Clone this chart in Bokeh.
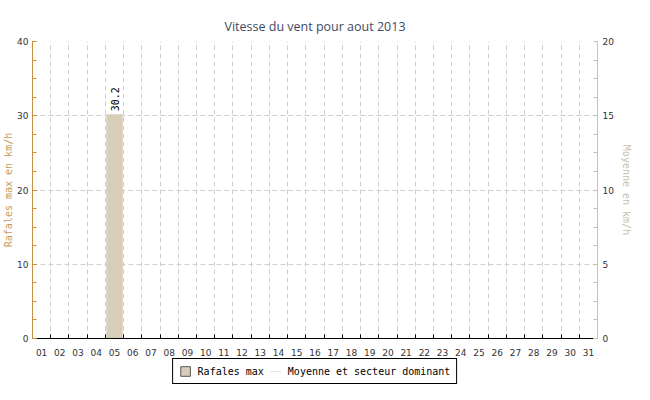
import math
from bokeh.plotting import figure
from bokeh.layouts import column
from bokeh.models import (Range1d, LinearAxis, FixedTicker, SingleIntervalTicker,
                          Legend, LegendItem, ColumnDataSource)
from bokeh.core.properties import value
from bokeh.embed import file_html
from bokeh.resources import INLINE

# ---- data ----
days = ["01", "02", "03", "04", "05", "06", "07", "08", "09", "10",
        "11", "12", "13", "14", "15", "16", "17", "18", "19", "20",
        "21", "22", "23", "24", "25", "26", "27", "28", "29", "30", "31"]
rafales = [None, None, None, None, 30.2, None, None, None, None, None,
           None, None, None, None, None, None, None, None, None, None,
           None, None, None, None, None, None, None, None, None, None, None]
moyenne = [None, None, None, None, None, None, None, None, None, None,
           None, None, None, None, None, None, None, None, None, None,
           None, None, None, None, None, None, None, None, None, None, None]
title = "Vitesse du vent pour aout 2013"
left_label = "Rafales max en km/h"
right_label = "Moyenne en km/h"
series_names = ["Rafales max", "Moyenne et secteur dominant"]

BAR = "#d8cdb9"
LINE = "#ece5d2"
LEFT_C = "#c8903e"
RIGHT_C = "#c9c1ac"
GRID = "#cfcfcf"
TICK_FONT = "DejaVu Sans"
MONO = "DejaVu Sans Mono"

xs = list(range(1, len(days) + 1))
bounds = [i + 0.5 for i in xs[:-1]]

p = figure(width=634, height=358, x_range=Range1d(0.5, len(days) + 0.5),
           y_range=Range1d(0, 40), output_backend="svg", toolbar_location=None,
           min_border_left=10, min_border_right=0, min_border_top=41,
           min_border_bottom=0)
p.extra_y_ranges = {"moy": Range1d(0, 20)}
p.outline_line_color = None
p.background_fill_color = "white"

p.title.text = title
p.title.align = "center"
p.title.text_font = "Open Sans"
p.title.text_font_style = "normal"
p.title.text_font_size = "12.5px"
p.title.text_color = "#3e4a63"
p.title.offset = 0
p.title.standoff = 14

# bars
bx = [x for x, v in zip(xs, rafales) if v is not None]
bv = [v for v in rafales if v is not None]
src = ColumnDataSource(dict(x=bx, top=bv, lab=[f"{v:.1f}" for v in bv]))
p.vbar(x="x", top="top", width=0.9, source=src, fill_color=BAR, line_color=None)
p.text(x="x", y="top", text="lab", source=src, angle=math.pi / 2,
       text_align="left", text_baseline="middle", y_offset=-3,
       text_font=value(MONO), text_font_size="10px", text_color="black")

# mean line (no data)
my = [float("nan") if v is None else v for v in moyenne]
line_src = ColumnDataSource(dict(x=xs, y=my))
p.line(x="x", y="y", source=line_src, y_range_name="moy", line_color=LINE, line_width=1)

# x axis
xa = p.xaxis[0]
xa.ticker = FixedTicker(ticks=xs, minor_ticks=bounds)
xa.major_label_overrides = {x: d for x, d in zip(xs, days)}
xa.major_tick_line_color = None
xa.minor_tick_in = 4
xa.minor_tick_out = 0
xa.minor_tick_line_color = "black"
xa.axis_line_color = "black"
xa.major_label_text_font = TICK_FONT
xa.major_label_text_font_size = "9px"
xa.major_label_text_color = "#333333"
xa.major_label_standoff = 4

p.xgrid.ticker = FixedTicker(ticks=bounds)
p.xgrid.grid_line_color = GRID
p.xgrid.grid_line_dash = "5 3"

# left axis
ya = p.yaxis[0]
ya.ticker = SingleIntervalTicker(interval=10, num_minor_ticks=4)
ya.axis_line_color = LEFT_C
ya.major_tick_line_color = LEFT_C
ya.minor_tick_line_color = LEFT_C
ya.major_tick_in = 4
ya.major_tick_out = 0
ya.minor_tick_in = 4
ya.minor_tick_out = 0
ya.major_label_text_font = TICK_FONT
ya.major_label_text_font_size = "9px"
ya.major_label_text_color = "#333333"
ya.major_label_standoff = 4
ya.axis_label = left_label
ya.axis_label_text_font = MONO
ya.axis_label_text_font_size = "10px"
ya.axis_label_text_font_style = "normal"
ya.axis_label_text_color = "#c89a5a"
ya.axis_label_standoff = 0

p.ygrid.ticker = ya.ticker
p.ygrid.grid_line_color = GRID
p.ygrid.grid_line_dash = "5 3"

# right axis
ra = LinearAxis(y_range_name="moy", ticker=SingleIntervalTicker(interval=5, num_minor_ticks=4))
ra.axis_line_color = RIGHT_C
ra.major_tick_line_color = RIGHT_C
ra.minor_tick_line_color = RIGHT_C
ra.major_tick_in = 4
ra.major_tick_out = 0
ra.minor_tick_in = 4
ra.minor_tick_out = 0
ra.major_label_text_font = TICK_FONT
ra.major_label_text_font_size = "9px"
ra.major_label_text_color = "#333333"
ra.major_label_standoff = 5
ra.axis_label = right_label
ra.axis_label_text_font = MONO
ra.axis_label_text_font_size = "10px"
ra.axis_label_text_font_style = "normal"
ra.axis_label_text_color = RIGHT_C
ra.axis_label_standoff = 4
p.add_layout(ra, "right")

# legend in a separate strip below (proxies use the same data, outside this strip's range)
lg = figure(width=634, height=26, x_range=Range1d(-1, 0), y_range=Range1d(-1, 0),
            output_backend="svg", toolbar_location=None,
            min_border=0, min_border_left=0, min_border_right=0,
            min_border_top=0, min_border_bottom=0)
lg.axis.visible = False
lg.grid.visible = False
lg.outline_line_color = None
proxy_bar = lg.vbar(x="x", top="top", width=0.9, source=src,
                    fill_color=BAR, line_color="#555555")
proxy_line = lg.line(x="x", y="y", source=line_src, line_color=LINE, line_width=1)

legend = Legend(items=[LegendItem(label=series_names[0], renderers=[proxy_bar]),
                       LegendItem(label=series_names[1], renderers=[proxy_line])],
                orientation="horizontal", location="center")
legend.border_line_color = "black"
legend.border_line_width = 1
legend.border_line_alpha = 1
legend.background_fill_alpha = 1
legend.label_text_font = MONO
legend.label_text_font_size = "10px"
legend.label_text_color = "black"
legend.glyph_width = 12
legend.glyph_height = 12
legend.label_standoff = 7
legend.spacing = 5
legend.padding = 6
legend.margin = 0
lg.add_layout(legend, "center")

layout = column(p, lg, spacing=0)
open("out.html", "w").write(file_html(layout, INLINE))
